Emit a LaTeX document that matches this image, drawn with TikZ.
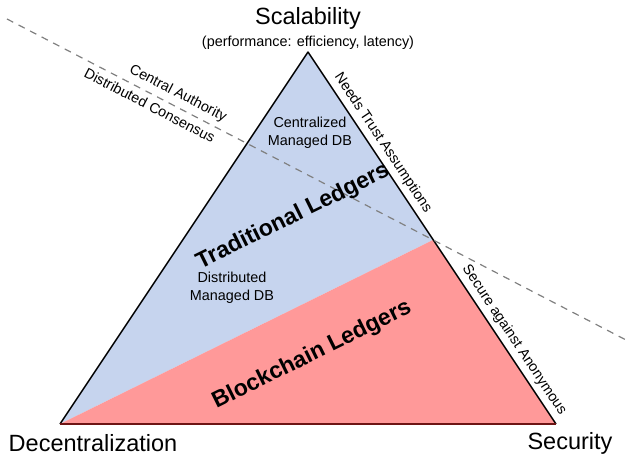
\documentclass[tikz,border=0pt]{standalone}
\usepackage{fontspec}
\setmainfont{Liberation Sans}
\definecolor{tradblue}{RGB}{198,212,238}
\definecolor{chainred}{RGB}{255,153,153}
\definecolor{edgered}{RGB}{110,20,20}
\definecolor{dashgray}{RGB}{128,128,128}
\begin{document}
\begin{tikzpicture}[x=1pt, y=-1pt, line join=round,
    corner/.style={font=\fontsize{23.5}{28}\selectfont},
    small/.style={font=\fontsize{14.4}{18.5}\selectfont, align=center, text=black},
    ledger/.style={font=\fontsize{23}{27}\selectfont\bfseries, rotate=26.3}]
   \useasboundingbox (0,0) rectangle (632,462);
   % corners of the triangle
   \coordinate (scal) at (308,52);
   \coordinate (dec) at (60,424);
   \coordinate (sec) at (556,424);
   \coordinate (split) at (433,240);
   \coordinate (dl1) at (7,19);
   \coordinate (dl2) at (628,341);

   % regions
   \fill[tradblue] (dec) -- (scal) -- (split) -- cycle;
   \fill[chainred] (dec) -- (split) -- (sec) -- cycle;
   \draw[line width=1.4pt] (dec) -- (scal) -- (sec);
   \draw[edgered, line width=1.4pt] (dec) -- (sec);

   % dashed divide
   \draw[dashgray, line width=1.2pt, dash pattern=on 7pt off 6pt] (dl1) -- (dl2)
      node[pos=0.266, sloped, above, small, inner sep=5pt] {Central Authority}
      node[pos=0.238, sloped, below, small, inner sep=5pt] {Distributed Consensus};

   % edge labels
   \path (scal) -- (split) node[pos=0.52, sloped, above, small, inner sep=5pt] {Needs Trust Assumptions};
   \path (split) -- (sec) node[pos=0.58, sloped, above, small, inner sep=5pt] {Secure against Anonymous};

   \begin{scope}[every node/.style={corner}]
    \node (nscal) at (308,18) {Scalability};
    \node (ndec) at (93,443) {Decentralization};
    \node (nsec) at (570,443) {Security};
   \end{scope}
   \node[small] (perf) at (308,43) {(performance: efficiency, latency)};

   \node[small] (cdb) at (310,133) {Centralized\\Managed DB};
   \node[small] (ddb) at (232,288) {Distributed\\Managed DB};
   \node[ledger] (trad) at (293,217) {Traditional Ledgers};
   \node[ledger] (chain) at (312,355) {Blockchain Ledgers};
\end{tikzpicture}
\end{document}
